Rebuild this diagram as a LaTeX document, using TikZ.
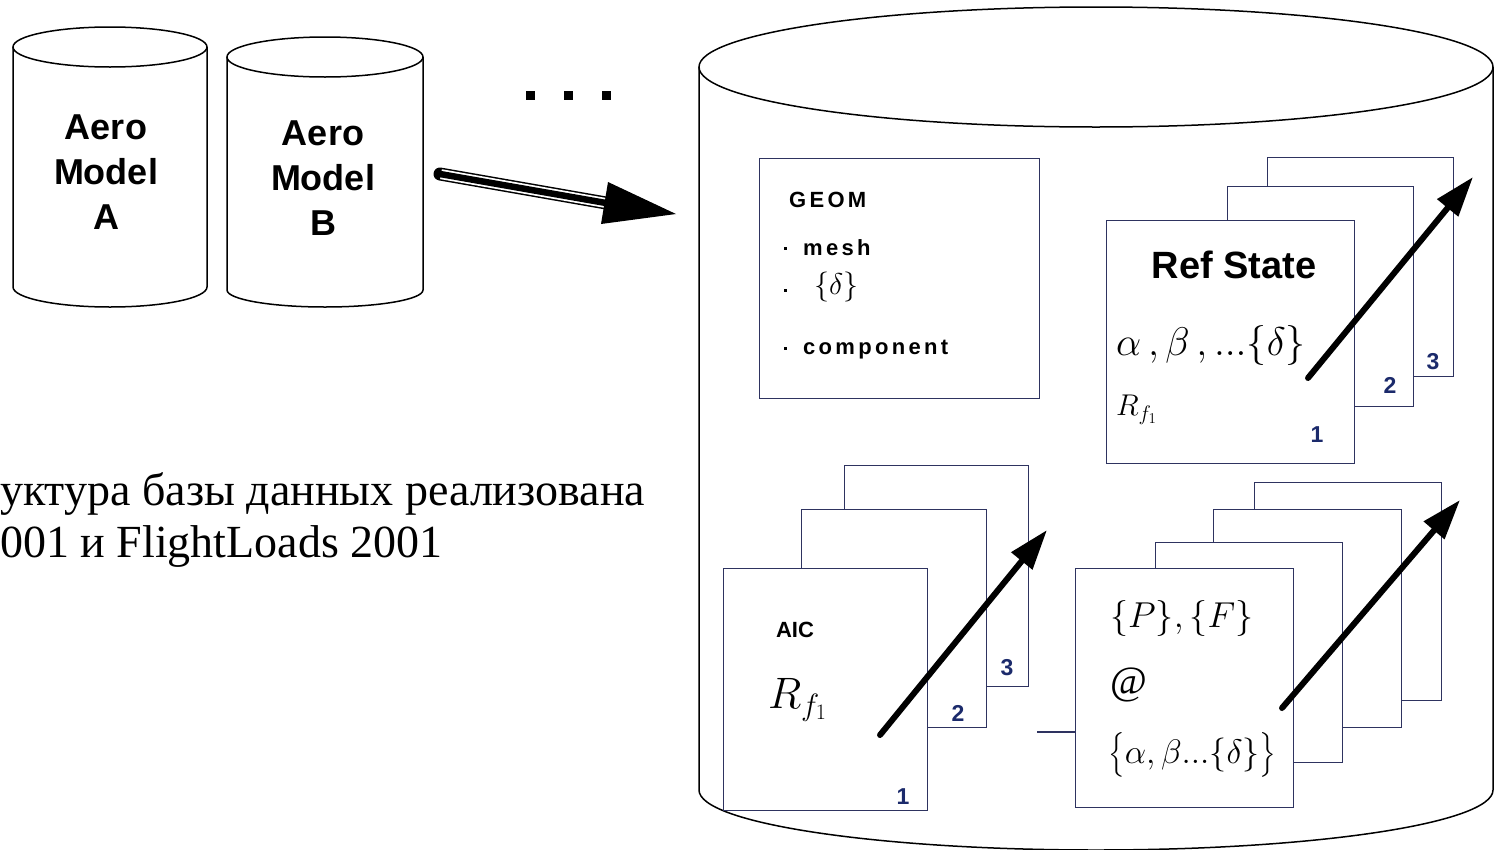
\RequirePackage{fix-cm}
\documentclass[tikz,border=0pt]{standalone}
\usepackage{amsmath}
\usepackage{fontspec}
\newfontfamily\arialf{Liberation Sans}
\newfontfamily\timesf{Liberation Serif}
\newfontfamily\geomf[LetterSpace=15]{Liberation Sans}
\usetikzlibrary{arrows.meta}
\definecolor{cardc}{HTML}{2E3360}
\definecolor{numc}{HTML}{1B2A6B}
\begin{document}
\begin{tikzpicture}[x=1pt,y=-1pt,
  card/.style={draw=cardc, line width=1.4pt, fill=white, inner sep=0pt, anchor=north west},
  cyl/.style={draw=black, line width=1.5pt},
  fatarrow/.style={line width=6pt, line cap=round, -{Triangle[length=40pt,width=26pt]}},
  aero/.style={font={\arialf\bfseries\fontsize{36pt}{45pt}\selectfont}, align=center, inner sep=0pt},
  geomtxt/.style={font={\geomf\bfseries\fontsize{22pt}{26pt}\selectfont}, anchor=west, inner sep=0pt},
  num/.style={font={\arialf\bfseries\fontsize{23pt}{27pt}\selectfont}, text=numc, inner sep=0pt},
  ru/.style={font={\timesf\fontsize{46pt}{52pt}\selectfont}, anchor=base west, inner sep=0pt}]
\useasboundingbox (0,0) rectangle (1496,849);

% small cylinders
\draw[cyl] (110,47) ellipse[x radius=97pt, y radius=20pt];
\draw[cyl] (13,47) -- (13,287) arc[start angle=180, end angle=360, x radius=97pt, y radius=20pt] -- (207,47);
\draw[cyl] (325,57) ellipse[x radius=98pt, y radius=20pt];
\draw[cyl] (227,57) -- (227,290) arc[start angle=180, end angle=360, x radius=98pt, y radius=17pt] -- (423,57);
\node[aero] (ma) at (106,172) {Aero\\Model\\A};
\node[aero] (mb) at (323,178) {Aero\\Model\\B};

% dots
\fill (525.5,90.5) rectangle ++(9,9);
\fill (563.5,90.5) rectangle ++(9,9);
\fill (601.5,90.5) rectangle ++(9,9);

% big double arrow
\coordinate (ds) at (440,174);
\coordinate (db) at (606,203);
\draw[line width=13pt, line cap=round] (ds) -- (db);
\draw[white, line width=10pt, shorten <=1pt] (ds) -- (db);
\draw[line width=6.5pt] (ds) -- (db);
\fill (608,182) -- (676,214) -- (601,224) -- cycle;

% big cylinder
\draw[cyl] (1096,67) ellipse[x radius=397pt, y radius=60pt];
\draw[cyl] (699,67) -- (699,790) arc[start angle=180, end angle=360, x radius=397pt, y radius=60pt] -- (1493,67);

% GEOM box
\node[card, minimum width=280pt, minimum height=240pt] (geom) at (759,158) {};
\node[geomtxt] (gt) at (789,200) {GEOM};
\node[geomtxt] (gm) at (803,248) {mesh};
\node[anchor=west, inner sep=0pt, font={\fontsize{30pt}{36pt}\selectfont}] (gd) at (814,287) {$\{\delta\}$};
\node[geomtxt] (gc) at (803,350) {component};
\fill (783.5,246.5) rectangle ++(3.5,3.5);
\fill (783.5,288.5) rectangle ++(3.5,3.5);
\fill (783.5,346.5) rectangle ++(3.5,3.5);

% Ref State stack
\node[card, minimum width=186pt, minimum height=219pt] (rs3) at (1267,157) {};
\node[card, minimum width=186pt, minimum height=220pt] (rs2) at (1227,186) {};
\node[card, minimum width=248pt, minimum height=243pt] (rs1) at (1106,220) {};
\node[font={\arialf\bfseries\fontsize{38pt}{44pt}\selectfont}, inner sep=0pt] (rst) at (1234,265) {Ref State};
\node[anchor=west, inner sep=0pt, font={\fontsize{40pt}{48pt}\selectfont}] (rsa) at (1116,345) {$\alpha\,,\beta\,,...\{\delta\}$};
\node[anchor=west, inner sep=0pt, font={\fontsize{30pt}{36pt}\selectfont}] (rsr) at (1116,410) {$R_{f_1}$};
\node[num] (rn1) at (1317,435) {1};
\node[num] (rn2) at (1390,385) {2};
\node[num] (rn3) at (1433,362) {3};
\coordinate (ra) at (1308,378);
\coordinate (rb) at (1473,177);
\draw[fatarrow] (ra) -- (rb);

% AIC stack
\node[card, minimum width=184pt, minimum height=221pt] (a3) at (844,465) {};
\node[card, minimum width=185pt, minimum height=218pt] (a2) at (801,509) {};
\node[card, minimum width=204pt, minimum height=242pt] (a1) at (723,568) {};
\node[font={\arialf\bfseries\fontsize{22pt}{26pt}\selectfont}, inner sep=0pt] (at) at (795,630) {AIC};
\node[anchor=west, inner sep=0pt, font={\fontsize{44pt}{52pt}\selectfont}] (ar) at (768,700) {$R_{f_1}$};
\node[num] (an1) at (903,797) {1};
\node[num] (an2) at (958,713) {2};
\node[num] (an3) at (1007,668) {3};
\coordinate (aa) at (880,735);
\coordinate (ab) at (1047,530);
\draw[fatarrow] (aa) -- (ab);

% P/F stack
\node[card, minimum width=187pt, minimum height=218pt] (p4) at (1254,482) {};
\node[card, minimum width=188pt, minimum height=218pt] (p3) at (1213,509) {};
\node[card, minimum width=187pt, minimum height=220pt] (p2) at (1155,542) {};
\node[card, minimum width=218pt, minimum height=239pt] (p1) at (1075,568) {};
\node[anchor=west, inner sep=0pt, font={\fontsize{36pt}{44pt}\selectfont}] (pf) at (1110,618) {$\{P\},\{F\}$};
\node[anchor=west, inner sep=0pt, font={\timesf\fontsize{40pt}{48pt}\selectfont}] (pat) at (1110,685) {@};
\node[anchor=west, inner sep=0pt, font={\fontsize{34pt}{40pt}\selectfont}] (pab) at (1108,755) {$\bigl\{\alpha,\beta...\{\delta\}\bigr\}$};
\coordinate (pa) at (1282,708);
\coordinate (pb) at (1460,500);
\draw[fatarrow] (pa) -- (pb);

% link
\coordinate (lk) at (1037,732);
\draw[cardc, line width=1.4pt] (lk) -- (lk -| p1.west);

% Russian text
\node[ru] (t1) at (0,505) {уктура базы данных реализована};
\node[ru] (t2) at (0,557) {001 и FlightLoads 2001};
\end{tikzpicture}
\end{document}
